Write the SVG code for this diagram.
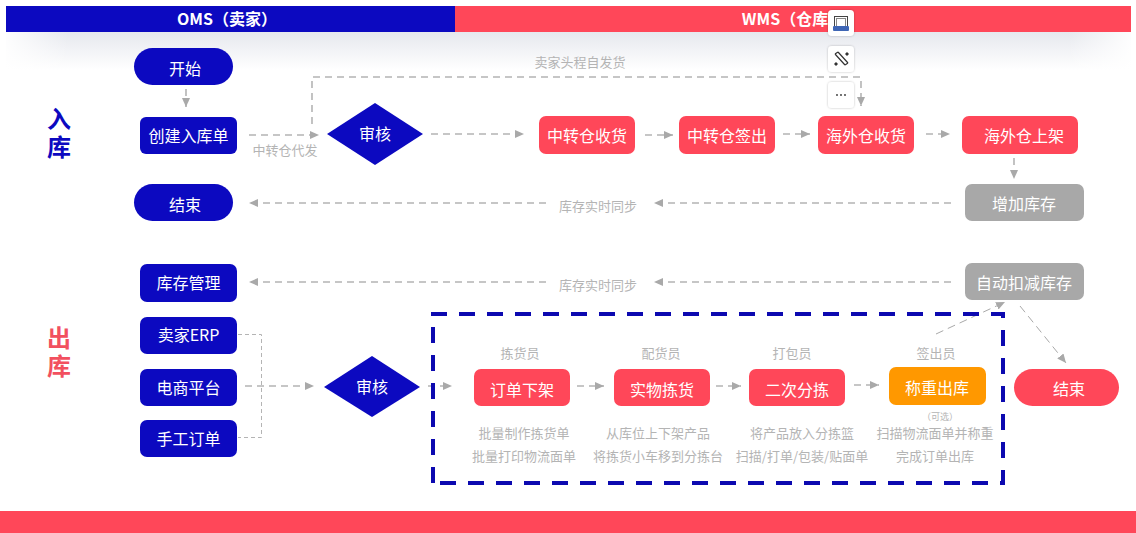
<svg xmlns="http://www.w3.org/2000/svg" width="1136" height="533" viewBox="0 0 1136 533">
  <defs>
    <linearGradient id="bandShade" x1="0" y1="0" x2="0" y2="1">
      <stop offset="0" stop-color="#e6e8ee"/>
      <stop offset="1" stop-color="#ffffff"/>
    </linearGradient>
    <linearGradient id="edgeFade" x1="0" y1="0" x2="1" y2="0">
      <stop offset="0" stop-color="#ffffff"/>
      <stop offset="0.06" stop-color="#ffffff" stop-opacity="0"/>
      <stop offset="0.94" stop-color="#ffffff" stop-opacity="0"/>
      <stop offset="1" stop-color="#ffffff"/>
    </linearGradient>
    <filter id="btnShadow" x="-30%" y="-30%" width="160%" height="160%">
      <feDropShadow dx="0" dy="0" stdDeviation="1.2" flood-color="#000000" flood-opacity="0.25"/>
    </filter>
    <marker id="arrow" markerWidth="10" markerHeight="10" refX="9" refY="4" orient="auto" markerUnits="userSpaceOnUse">
      <path d="M0,0 L9,4 L0,8 Z" fill="#a9a9a9"/>
    </marker>
  </defs>
  <style>
    text { font-family: "Noto Sans CJK SC", "Noto Sans", sans-serif; text-anchor: middle; }
    .blue { fill: #0c09c0; }
    .red { fill: #ff4759; }
    .grey { fill: #a8a8a8; }
    .orange { fill: #ff9800; }
    .lbl { fill: #ffffff; font-size: 16px; }
    .head { fill: #ffffff; font-size: 16px; font-weight: 700; }
    .side { font-size: 24px; font-weight: 700; writing-mode: vertical-rl; letter-spacing: 4px; }
    .note { fill: #b4b4b4; font-size: 13px; }
    .tiny { fill: #b4b4b4; font-size: 9px; }
    .flow { fill: none; stroke: #b4b4b4; stroke-width: 1.6; stroke-dasharray: 7 5; marker-end: url(#arrow); }
    .thin { fill: none; stroke: #b4b4b4; stroke-width: 1; stroke-dasharray: 4 3; }
    .thinflow { fill: none; stroke: #a9a9a9; stroke-width: 1; stroke-dasharray: 8 5; marker-end: url(#arrow); }
    .frame { fill: none; stroke: #0c09b0; stroke-width: 4; stroke-dasharray: 16 12; }
    .btn { fill: #ffffff; filter: url(#btnShadow); }
  </style>

  <rect width="1136" height="533" fill="#ffffff"/>

  <!-- header band -->
  <g id="header">
    <rect x="6" y="32" width="1125" height="38" fill="url(#bandShade)"/>
    <rect x="0" y="32" width="1136" height="38" fill="url(#edgeFade)"/>
    <rect x="6" y="6" width="449" height="26" class="blue"/>
    <rect x="455" y="6" width="676" height="26" class="red"/>
    <text x="227" y="25" class="head">OMS（卖家）</text>
    <text x="793" y="25" class="head">WMS（仓库）</text>
  </g>

  <g id="footer"><rect x="0" y="511" width="1136" height="22" class="red"/></g>

  <!-- section titles -->
  <g id="section-in">
    <text x="59" y="135" class="side" fill="#0c09c0">入库</text>
  </g>
  <g id="section-out">
    <text x="59" y="354" class="side" fill="#f2505f">出库</text>
  </g>

  <!-- connectors -->
  <g id="connectors">
    <path class="flow" d="M186,89 V107"/>
    <path class="flow" d="M249,135 H319"/>
    <path class="flow" d="M312,124 V77 H861 V106"/>
    <path class="flow" d="M431,134 H524"/>
    <path class="flow" d="M645,135 H673"/>
    <path class="flow" d="M783,134 H810"/>
    <path class="flow" d="M926,134 H950"/>
    <path class="flow" d="M1014,158 V179"/>
    <path class="flow" d="M951,203 H654"/>
    <path class="flow" d="M546,203 H249"/>
    <path class="flow" d="M951,282 H654"/>
    <path class="flow" d="M546,282 H249"/>
    <path class="thin" d="M238,334.500 H261.500 V437.500 H238"/>
    <path class="flow" d="M245,386 H314"/>
    <path class="flow" d="M428,386 H452"/>
    <path class="flow" d="M577,386 H604"/>
    <path class="flow" d="M716,386 H741"/>
    <path class="flow" d="M854,385 H879"/>
    <path class="thinflow" d="M936,334 L1005,302"/>
    <path class="thinflow" d="M1020,306 L1066,363"/>
  </g>

  <!-- inbound nodes -->
  <g id="start"><rect x="134" y="48" width="99" height="37" rx="18.500" class="blue"/><text x="185" y="75" class="lbl">开始</text></g>
  <g id="create-inbound"><rect x="140" y="117" width="97" height="37" rx="6" class="blue"/><text x="188.500" y="142" class="lbl">创建入库单</text></g>
  <g id="review-in"><polygon points="327,134 375,103 423,134 375,165" class="blue"/><text x="375" y="140" class="lbl">审核</text></g>
  <g id="end-in"><rect x="134" y="184" width="99" height="37" rx="18.500" class="blue"/><text x="185" y="211" class="lbl">结束</text></g>
  <g id="transfer-receive"><rect x="539" y="116" width="96" height="38" rx="7" class="red"/><text x="587" y="142" class="lbl">中转仓收货</text></g>
  <g id="transfer-signoff"><rect x="679" y="116" width="96" height="38" rx="7" class="red"/><text x="727" y="142" class="lbl">中转仓签出</text></g>
  <g id="overseas-receive"><rect x="818" y="116" width="96" height="38" rx="7" class="red"/><text x="866" y="142" class="lbl">海外仓收货</text></g>
  <g id="overseas-shelve"><rect x="962" y="116" width="116" height="38" rx="7" class="red"/><text x="1024" y="142" class="lbl">海外仓上架</text></g>
  <g id="add-stock"><rect x="965" y="184" width="119" height="37" rx="7" class="grey"/><text x="1024" y="210" class="lbl">增加库存</text></g>

  <!-- outbound nodes -->
  <g id="stock-manage"><rect x="140" y="264" width="97" height="38" rx="7" class="blue"/><text x="188.500" y="289" class="lbl">库存管理</text></g>
  <g id="deduct-stock"><rect x="965" y="263" width="119" height="37" rx="7" class="grey"/><text x="1024" y="289" class="lbl">自动扣减库存</text></g>
  <g id="seller-erp"><rect x="140" y="317" width="97" height="37" rx="7" class="blue"/><text x="188.500" y="341" class="lbl">卖家ERP</text></g>
  <g id="ecommerce"><rect x="140" y="369" width="97" height="37" rx="7" class="blue"/><text x="188.500" y="394" class="lbl">电商平台</text></g>
  <g id="manual-order"><rect x="140" y="420" width="97" height="37" rx="7" class="blue"/><text x="188.500" y="445" class="lbl">手工订单</text></g>
  <g id="review-out"><polygon points="324,387 372,356 420,387 372,417" class="blue"/><text x="372" y="393" class="lbl">审核</text></g>

  <!-- warehouse work area: top and right run clockwise, bottom and left are dashed on their own -->
  <g id="work-area">
    <path class="frame" d="M431,314 H1003 V483 H435"/>
    <path class="frame" d="M433,483 V314"/>
  </g>
  <g id="pick-release">
    <rect x="474" y="369" width="96" height="37" rx="7" class="red"/><text x="522" y="396" class="lbl">订单下架</text>
    <text x="520" y="358" class="note">拣货员</text>
    <text x="524" y="438" class="note">批量制作拣货单</text>
    <text x="524" y="461" class="note">批量打印物流面单</text>
  </g>
  <g id="physical-pick">
    <rect x="614" y="369" width="96" height="37" rx="7" class="red"/><text x="662" y="396" class="lbl">实物拣货</text>
    <text x="661" y="358" class="note">配货员</text>
    <text x="658" y="438" class="note">从库位上下架产品</text>
    <text x="658" y="461" class="note">将拣货小车移到分拣台</text>
  </g>
  <g id="second-sort">
    <rect x="749" y="369" width="96" height="37" rx="7" class="red"/><text x="797" y="396" class="lbl">二次分拣</text>
    <text x="792" y="358" class="note">打包员</text>
    <text x="802" y="438" class="note">将产品放入分拣篮</text>
    <text x="802" y="461" class="note">扫描/打单/包装/贴面单</text>
  </g>
  <g id="weigh-out">
    <rect x="889" y="367" width="97" height="38" rx="7" class="orange"/><text x="937" y="394" class="lbl">称重出库</text>
    <text x="936" y="358" class="note">签出员</text>
    <text x="940" y="420" class="tiny">（可选）</text>
    <text x="935" y="438" class="note">扫描物流面单并称重</text>
    <text x="935" y="461" class="note">完成订单出库</text>
  </g>
  <g id="end-out"><rect x="1014" y="369" width="105" height="37" rx="18.500" class="red"/><text x="1069" y="395" class="lbl">结束</text></g>

  <!-- connector labels -->
  <g id="labels">
    <text x="285" y="155" class="note">中转仓代发</text>
    <text x="580" y="67" class="note">卖家头程自发货</text>
    <text x="598" y="211" class="note">库存实时同步</text>
    <text x="598" y="290" class="note">库存实时同步</text>
  </g>

  <!-- floating toolbar -->
  <g id="toolbar">
    <rect x="828" y="10" width="26" height="26" rx="4" class="btn"/>
    <rect x="834.500" y="16.500" width="13" height="12" fill="none" stroke="#444444" stroke-width="1"/>
    <rect x="836.500" y="18.500" width="9" height="8" fill="none" stroke="#888888" stroke-width="1"/>
    <rect x="833" y="26" width="16" height="5" rx="1" fill="#3f66b5"/>
    <rect x="828" y="46" width="26" height="26" rx="4" class="btn"/>
    <path d="M835,54 L845,65 M838,52 L848,63 M835,54 L838,52 M845,65 L848,63" fill="none" stroke="#333333" stroke-width="1.200"/>
    <path d="M847,52 l2,2 l-2,2 l-2,-2 Z M836,62 l2,2 l-2,2 l-2,-2 Z" fill="#333333"/>
    <rect x="828" y="82" width="26" height="26" rx="4" class="btn"/>
    <circle cx="837" cy="95" r="0.900" fill="#333333"/>
    <circle cx="841" cy="95" r="0.900" fill="#333333"/>
    <circle cx="845" cy="95" r="0.900" fill="#333333"/>
  </g>
</svg>
